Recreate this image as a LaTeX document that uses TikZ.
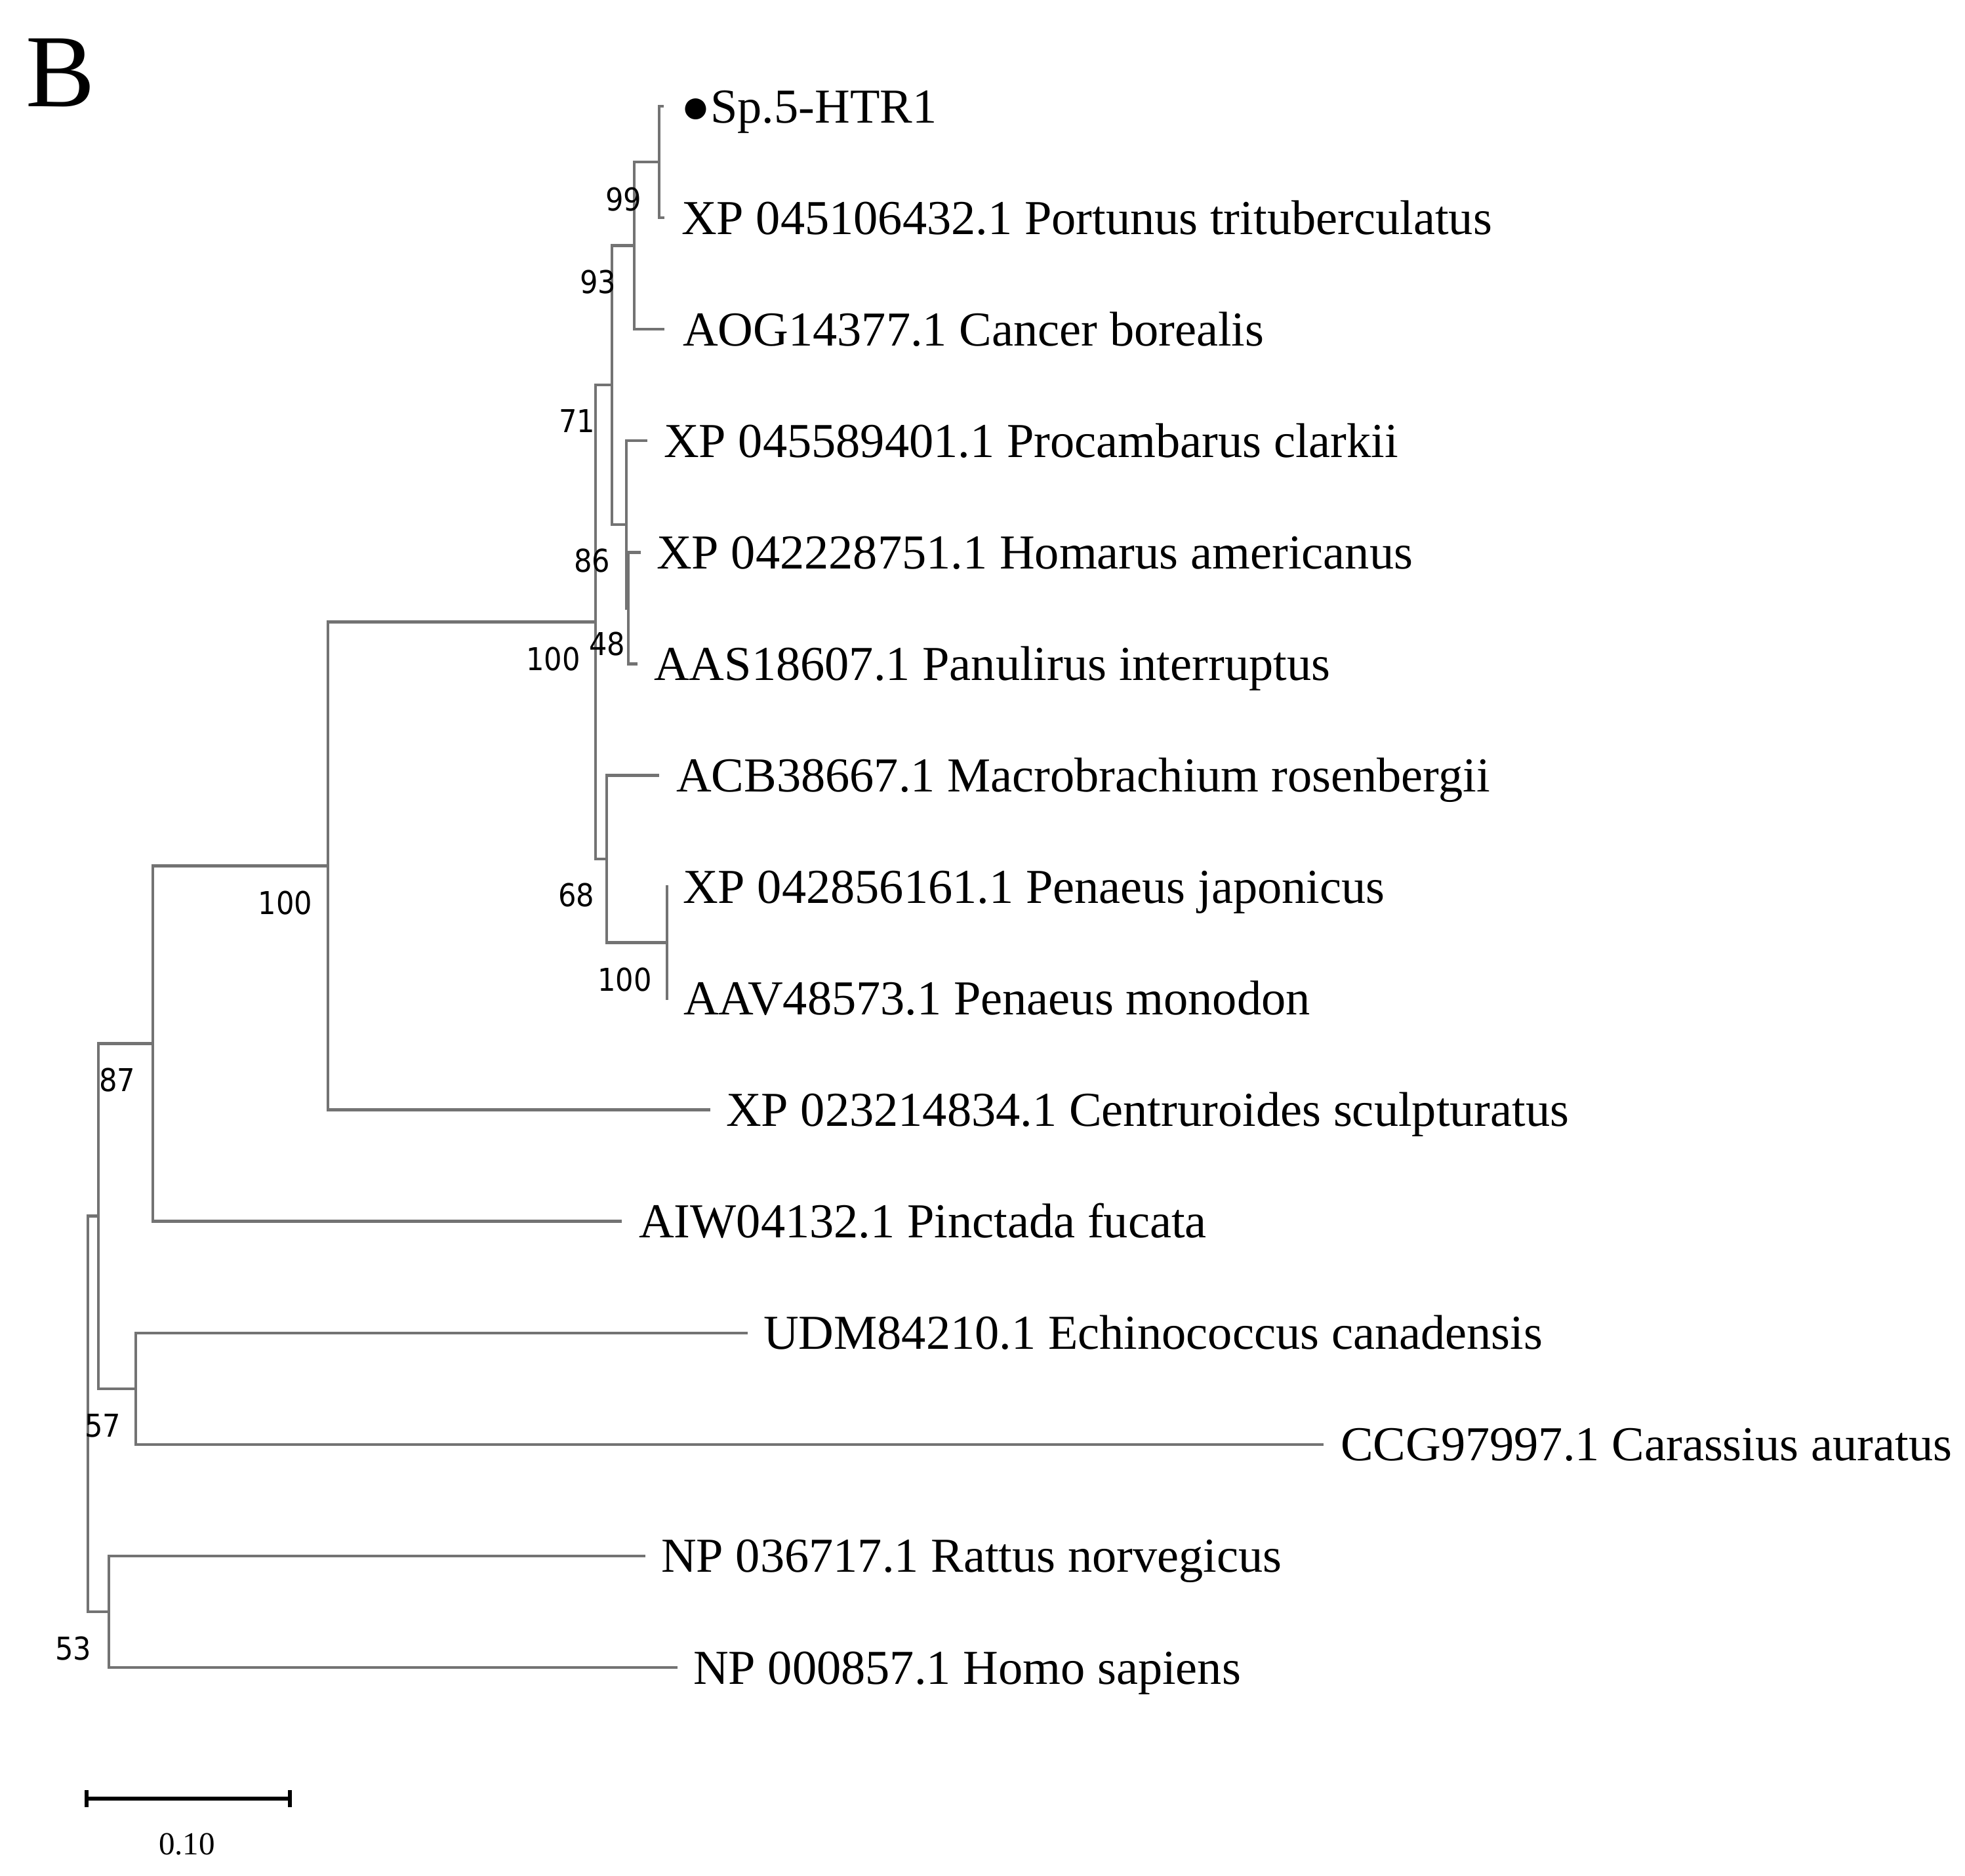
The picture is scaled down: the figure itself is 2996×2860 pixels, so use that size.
\documentclass[tikz,border=0pt]{standalone}
\usepackage{fontspec}
\setmainfont{Liberation Serif}
\newfontfamily\bsfont{DejaVu Sans Condensed}
\begin{document}
\begin{tikzpicture}[x=1pt,y=-1pt,
  br/.style={draw=black!55, line width=4.5pt},
  sbar/.style={draw=black, line width=6pt},
  leaf/.style={anchor=base west, inner sep=0pt, font=\fontsize{74.4}{80}\selectfont},
  bs/.style={anchor=center, inner sep=0pt, font=\bsfont\fontsize{48}{52}\selectfont},
]
\useasboundingbox (0,0) rectangle (2996,2860);
% panel letter
\node[anchor=base west, inner sep=0pt, font=\fontsize{158}{160}\selectfont] (panel) at (39,162) {B};
% tips
\coordinate (t0) at (1012,162);
\coordinate (t1) at (1013,332);
\coordinate (t2) at (1013,502);
\coordinate (t3) at (987,672);
\coordinate (t4) at (977,842.3);
\coordinate (t5) at (972,1012.4);
\coordinate (t6) at (1005,1182.4);
\coordinate (t7) at (1019,1352.5);
\coordinate (t8) at (1019,1522.6);
\coordinate (t9) at (1083,1692.6);
\coordinate (t10) at (948,1862.7);
\coordinate (t11) at (1140,2032.8);
\coordinate (t12) at (2018,2202.8);
\coordinate (t13) at (984,2372.9);
\coordinate (t14) at (1033,2543);
% internal nodes
\coordinate (A) at (1005,247);
\coordinate (B) at (967,374.5);
\coordinate (E) at (958,927.3);
\coordinate (D) at (955,799.8);
\coordinate (C) at (933,587.1);
\coordinate (H) at (1017,1437.5);
\coordinate (G) at (925,1310);
\coordinate (F) at (908,948.5);
\coordinate (I) at (500,1320.6);
\coordinate (J) at (233,1591.6);
\coordinate (K) at (207,2117.8);
\coordinate (L) at (150,1854.7);
\coordinate (M) at (166,2458);
\coordinate (R) at (134,2156.3);
% branches
\draw[br] (A) |- (t0);  \draw[br] (A) |- (t1);
\draw[br] (B) |- (A);   \draw[br] (B) |- (t2);
\draw[br] (E) |- (t4);  \draw[br] (E) |- (t5);
\draw[br] (D) |- (t3);  \draw[br] (D) |- (E);
\draw[br] (C) |- (B);   \draw[br] (C) |- (D);
\draw[br] (H) |- (t7);  \draw[br] (H) |- (t8);
\draw[br] (G) |- (t6);  \draw[br] (G) |- (H);
\draw[br] (F) |- (C);   \draw[br] (F) |- (G);
\draw[br] (I) |- (F);   \draw[br] (I) |- (t9);
\draw[br] (J) |- (I);   \draw[br] (J) |- (t10);
\draw[br] (K) |- (t11); \draw[br] (K) |- (t12);
\draw[br] (L) |- (J);   \draw[br] (L) |- (K);
\draw[br] (M) |- (t13); \draw[br] (M) |- (t14);
\draw[br] (R) |- (L);   \draw[br] (R) |- (M);
% leaf labels
\node[leaf] (l0) at (1038,187) {●Sp.5-HTR1};
\node[leaf] (l1) at (1039,357) {XP 045106432.1 Portunus trituberculatus};
\node[leaf] (l2) at (1041,527) {AOG14377.1 Cancer borealis};
\node[leaf] (l3) at (1012,697) {XP 045589401.1 Procambarus clarkii};
\node[leaf] (l4) at (1001,867.3) {XP 042228751.1 Homarus americanus};
\node[leaf] (l5) at (997,1037.4) {AAS18607.1 Panulirus interruptus};
\node[leaf] (l6) at (1031,1207.4) {ACB38667.1 Macrobrachium rosenbergii};
\node[leaf] (l7) at (1041,1377.5) {XP 042856161.1 Penaeus japonicus};
\node[leaf] (l8) at (1042,1547.6) {AAV48573.1 Penaeus monodon};
\node[leaf] (l9) at (1107,1717.6) {XP 023214834.1 Centruroides sculpturatus};
\node[leaf] (l10) at (974,1887.7) {AIW04132.1 Pinctada fucata};
\node[leaf] (l11) at (1164,2057.8) {UDM84210.1 Echinococcus canadensis};
\node[leaf] (l12) at (2044,2227.8) {CCG97997.1 Carassius auratus};
\node[leaf] (l13) at (1008,2397.9) {NP 036717.1 Rattus norvegicus};
\node[leaf] (l14) at (1057,2568) {NP 000857.1 Homo sapiens};
% bootstrap values
\node[bs] (bA) at (950.5,304.5) {99};
\node[bs] (bB) at (912,430.5) {93};
\node[bs] (bC) at (880,642) {71};
\node[bs] (bD) at (902.5,855) {86};
\node[bs] (bE) at (926,982.5) {48};
\node[bs] (bF) at (843.5,1005.5) {100};
\node[bs] (bG) at (878.5,1365) {68};
\node[bs] (bH) at (952.5,1494.5) {100};
\node[bs] (bI) at (435,1377) {100};
\node[bs] (bJ) at (178.5,1647) {87};
\node[bs] (bK) at (157,2174) {57};
\node[bs] (bM) at (112,2514) {53};
% scale bar
\coordinate (s0) at (132,2743);
\coordinate (s1) at (442,2743);
\draw[sbar] (s0) -- (s1);
\draw[sbar] ([yshift=13pt]s0) -- ([yshift=-13pt]s0);
\draw[sbar] ([yshift=13pt]s1) -- ([yshift=-13pt]s1);
\node[anchor=center, inner sep=0pt, font=\fontsize{49}{52}\selectfont] (sl) at (285,2813) {0.10};
\end{tikzpicture}
\end{document}
